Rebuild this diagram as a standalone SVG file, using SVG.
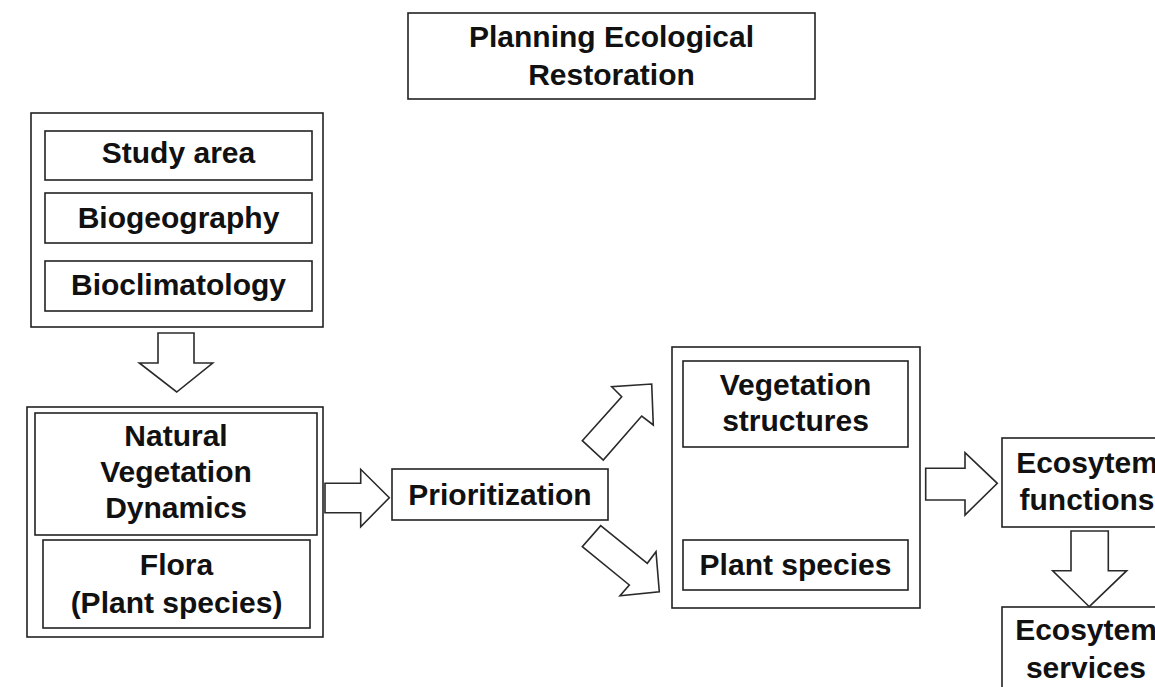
<svg xmlns="http://www.w3.org/2000/svg" width="1155" height="687" viewBox="0 0 1155 687">
<style>
  .box { fill: #ffffff; stroke: #222222; stroke-width: 1.6; }
  .arrow { fill: #ffffff; stroke: #2a2a2a; stroke-width: 1.6; stroke-linejoin: miter; }
  .t { font-family: "Liberation Sans", Arial, sans-serif; font-weight: bold; font-size: 30px; fill: #111111; text-anchor: middle; }
</style>
<rect width="1155" height="687" fill="#ffffff"/>

<g id="title">
  <rect class="box" x="408" y="13" width="407" height="86"/>
  <text class="t" x="611.5" y="47">Planning Ecological</text>
  <text class="t" x="611.5" y="85">Restoration</text>
</g>

<g id="context-group">
  <rect class="box" x="31" y="113" width="292" height="214"/>
  <g id="study-area">
    <rect class="box" x="45" y="131" width="267" height="49"/>
    <text class="t" x="178.5" y="163">Study area</text>
  </g>
  <g id="biogeography">
    <rect class="box" x="45" y="193" width="267" height="50"/>
    <text class="t" x="178.5" y="228">Biogeography</text>
  </g>
  <g id="bioclimatology">
    <rect class="box" x="45" y="261" width="267" height="50"/>
    <text class="t" x="178.5" y="295">Bioclimatology</text>
  </g>
</g>

<g id="vegetation-group">
  <rect class="box" x="27" y="407" width="296" height="230"/>
  <g id="nvd">
    <rect class="box" x="35" y="413" width="282" height="122"/>
    <text class="t" x="176" y="446">Natural</text>
    <text class="t" x="176" y="482">Vegetation</text>
    <text class="t" x="176" y="518">Dynamics</text>
  </g>
  <g id="flora">
    <rect class="box" x="43" y="540" width="267" height="88"/>
    <text class="t" x="176.5" y="575">Flora</text>
    <text class="t" x="176.5" y="613">(Plant species)</text>
  </g>
</g>

<g id="prioritization">
  <rect class="box" x="392" y="469" width="216" height="51"/>
  <text class="t" x="500" y="505">Prioritization</text>
</g>

<g id="targets-group">
  <rect class="box" x="672" y="347" width="248" height="261"/>
  <g id="vegetation-structures">
    <rect class="box" x="683" y="361" width="225" height="86"/>
    <text class="t" x="795.5" y="395">Vegetation</text>
    <text class="t" x="795.5" y="431">structures</text>
  </g>
  <g id="plant-species">
    <rect class="box" x="683" y="540" width="225" height="50"/>
    <text class="t" x="795.5" y="575">Plant species</text>
  </g>
</g>

<g id="ecosystem-functions">
  <rect class="box" x="1002" y="438" width="168" height="89"/>
  <text class="t" x="1087" y="473">Ecosytem</text>
  <text class="t" x="1087" y="510">functions</text>
</g>

<g id="ecosystem-services">
  <rect class="box" x="1002" y="607" width="168" height="100"/>
  <text class="t" x="1086" y="640">Ecosytem</text>
  <text class="t" x="1086" y="678">services</text>
</g>

<g id="connectors">
  <polygon class="arrow" points="158,333 194,333 194,363 212.7,363 176.7,392 139.3,363 158,363"/>
  <polygon class="arrow" points="325,483.3 360.7,483.3 360.7,469.3 389.3,497.7 360.7,526.7 360.7,512.7 325,512.7"/>
  <polygon class="arrow" points="582.3,440.7 621.7,396.7 611.7,386.7 651.7,384 653.3,425 641.7,416 603.3,460"/>
  <polygon class="arrow" points="600.7,525.7 647.3,563.3 656,551.7 659.3,591.7 620,595.7 629.3,585 582.3,546.7"/>
  <polygon class="arrow" points="925.7,468.3 965,468.3 965,452.7 997.3,483.3 965,515 965,500 925.7,500"/>
  <polygon class="arrow" points="1071,531 1108.3,531 1108.3,570.7 1126.7,570.7 1089.3,606.7 1052.7,570.7 1071,570.7"/>
</g>
</svg>
